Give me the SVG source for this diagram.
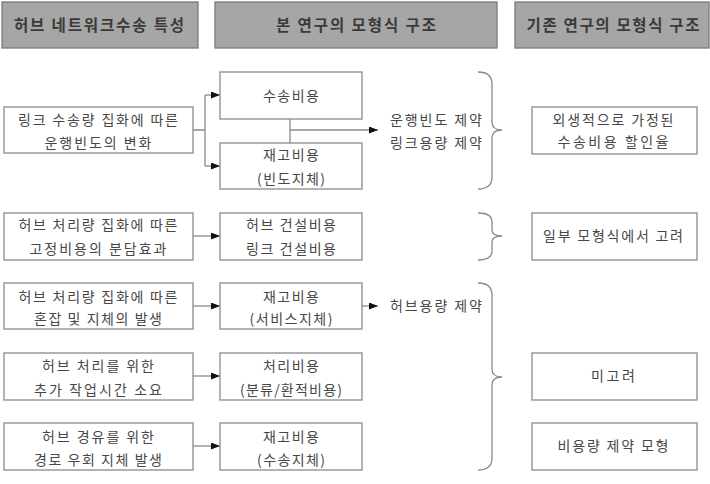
<svg xmlns="http://www.w3.org/2000/svg" width="710" height="484" viewBox="0 0 710 484">
<style>
.hd{fill:#a6a6a6;stroke:#7a7a7a;stroke-width:1.3}
.bx{fill:#fff;stroke:#8a8a8a;stroke-width:1.3}
.ht{font-family:"Noto Sans CJK KR",sans-serif;font-size:15.5px;font-weight:bold;fill:#3a3a3a;text-anchor:middle}
.t{font-family:"Noto Sans CJK KR",sans-serif;font-size:14px;fill:#474747;text-anchor:middle}
.ln{fill:none;stroke:#8a8a8a;stroke-width:1.3}
.br{fill:none;stroke:#8a8a8a;stroke-width:1.3}
</style>
<defs>
<marker id="ar" markerWidth="9" markerHeight="7" refX="9" refY="3.5" orient="auto" markerUnits="userSpaceOnUse">
<path d="M0,0 L9,3.5 L0,7 Z" fill="#111"/>
</marker>
</defs>
<g id="headers">
<g id="h1"><rect class="hd" x="2" y="2" width="196" height="46"/><text class="ht" x="99" y="31" textLength="170" lengthAdjust="spacing">허브 네트워크수송 특성</text></g>
<g id="h2"><rect class="hd" x="215" y="2" width="282" height="46"/><text class="ht" x="356" y="31" textLength="160" lengthAdjust="spacing">본 연구의 모형식 구조</text></g>
<g id="h3"><rect class="hd" x="515" y="2" width="194" height="46"/><text class="ht" x="613" y="31" textLength="173" lengthAdjust="spacing">기존 연구의 모형식 구조</text></g>
</g>
<g id="connectors">
<path class="ln" d="M193,130 H205 M205,95 V166"/>
<path class="ln" d="M205,95 H220" marker-end="url(#ar)"/>
<path class="ln" d="M205,166 H220" marker-end="url(#ar)"/>
<path class="ln" d="M290,119 V143"/>
<path class="ln" d="M290,130 H378" marker-end="url(#ar)"/>
<path class="ln" d="M193,236 H220" marker-end="url(#ar)"/>
<path class="ln" d="M193,306 H220" marker-end="url(#ar)"/>
<path class="ln" d="M362,306 H378" marker-end="url(#ar)"/>
<path class="ln" d="M193,376 H220" marker-end="url(#ar)"/>
<path class="ln" d="M193,446 H220" marker-end="url(#ar)"/>
<path class="br" d="M478,72 Q492,72 492,84 L492,122 Q492,130 502,130 Q492,130 492,138 L492,177 Q492,189 478,189"/>
<path class="br" d="M478,213 Q492,213 492,222 L492,230 Q492,236 502,236 Q492,236 492,242 L492,251 Q492,260 478,260"/>
<path class="br" d="M478,283 Q492,283 492,295 L492,369 Q492,377 502,377 Q492,377 492,385 L492,458 Q492,470 478,470"/>
</g>
<g id="n1"><rect class="bx" x="4" y="107" width="189" height="46"/><text class="t" x="98" y="125" textLength="160" lengthAdjust="spacing">링크 수송량 집화에 따른</text><text class="t" x="98" y="148" textLength="107" lengthAdjust="spacing">운행빈도의 변화</text></g>
<g id="n2"><rect class="bx" x="220" y="72" width="142" height="47"/><text class="t" x="291" y="101" textLength="56" lengthAdjust="spacing">수송비용</text></g>
<g id="n3"><rect class="bx" x="220" y="143" width="142" height="46"/><text class="t" x="291" y="160" textLength="56" lengthAdjust="spacing">재고비용</text><text class="t" x="291" y="184" textLength="68" lengthAdjust="spacing">(빈도지체)</text></g>
<g id="c1"><text class="t" x="436" y="125" textLength="92" lengthAdjust="spacing">운행빈도 제약</text><text class="t" x="436" y="148" textLength="92" lengthAdjust="spacing">링크용량 제약</text></g>
<g id="r1"><rect class="bx" x="532" y="107" width="165" height="47"/><text class="t" x="613" y="125" textLength="121" lengthAdjust="spacing">외생적으로 가정된</text><text class="t" x="613" y="147" textLength="111" lengthAdjust="spacing">수송비용 할인율</text></g>
<g id="n4"><rect class="bx" x="4" y="213" width="189" height="47"/><text class="t" x="98" y="230" textLength="159" lengthAdjust="spacing">허브 처리량 집화에 따른</text><text class="t" x="98" y="254" textLength="137" lengthAdjust="spacing">고정비용의 분담효과</text></g>
<g id="n5"><rect class="bx" x="220" y="213" width="142" height="47"/><text class="t" x="291" y="230" textLength="90" lengthAdjust="spacing">허브 건설비용</text><text class="t" x="291" y="254" textLength="90" lengthAdjust="spacing">링크 건설비용</text></g>
<g id="r2"><rect class="bx" x="532" y="213" width="165" height="47"/><text class="t" x="613" y="241" textLength="140" lengthAdjust="spacing">일부 모형식에서 고려</text></g>
<g id="n6"><rect class="bx" x="4" y="283" width="189" height="46"/><text class="t" x="98" y="302" textLength="159" lengthAdjust="spacing">허브 처리량 집화에 따른</text><text class="t" x="98" y="324" textLength="128" lengthAdjust="spacing">혼잡 및 지체의 발생</text></g>
<g id="n7"><rect class="bx" x="220" y="283" width="142" height="46"/><text class="t" x="291" y="302" textLength="56" lengthAdjust="spacing">재고비용</text><text class="t" x="291" y="324" textLength="83" lengthAdjust="spacing">(서비스지체)</text></g>
<g id="c2"><text class="t" x="436" y="311" textLength="92" lengthAdjust="spacing">허브용량 제약</text></g>
<g id="n8"><rect class="bx" x="4" y="353" width="189" height="47"/><text class="t" x="98" y="371" textLength="112" lengthAdjust="spacing">허브 처리를 위한</text><text class="t" x="98" y="395" textLength="128" lengthAdjust="spacing">추가 작업시간 소요</text></g>
<g id="n9"><rect class="bx" x="220" y="353" width="142" height="47"/><text class="t" x="291" y="371" textLength="56" lengthAdjust="spacing">처리비용</text><text class="t" x="291" y="395" textLength="102" lengthAdjust="spacing">(분류/환적비용)</text></g>
<g id="r3"><rect class="bx" x="532" y="353" width="165" height="47"/><text class="t" x="613" y="381" textLength="44" lengthAdjust="spacing">미고려</text></g>
<g id="n10"><rect class="bx" x="4" y="423" width="189" height="47"/><text class="t" x="98" y="442" textLength="112" lengthAdjust="spacing">허브 경유를 위한</text><text class="t" x="98" y="465" textLength="128" lengthAdjust="spacing">경로 우회 지체 발생</text></g>
<g id="n11"><rect class="bx" x="220" y="423" width="142" height="47"/><text class="t" x="291" y="442" textLength="56" lengthAdjust="spacing">재고비용</text><text class="t" x="291" y="465" textLength="68" lengthAdjust="spacing">(수송지체)</text></g>
<g id="r4"><rect class="bx" x="532" y="423" width="165" height="47"/><text class="t" x="613" y="451" textLength="111" lengthAdjust="spacing">비용량 제약 모형</text></g>
</svg>
